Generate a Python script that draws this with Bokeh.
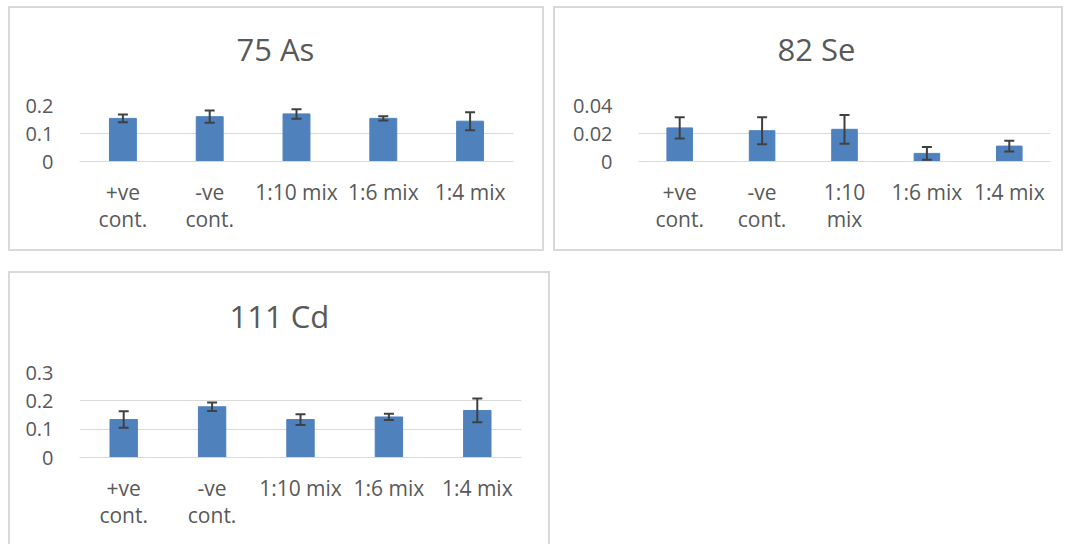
from bokeh.plotting import figure
from bokeh.models import (ColumnDataSource, Whisker, TeeHead, FixedTicker, FactorRange,
                          Title)
from bokeh.layouts import column, row
from bokeh.embed import file_html
from bokeh.resources import INLINE

# 75 As
as_title = "75 As"
as_categories = ["+ve\ncont.", "-ve\ncont.", "1:10 mix", "1:6 mix", "1:4 mix"]
as_values = [0.154, 0.160, 0.170, 0.154, 0.144]
as_errors = [0.014, 0.022, 0.017, 0.008, 0.032]
as_ticks = [0, 0.1, 0.2]
as_tick_labels = ["0", "0.1", "0.2"]

# 82 Se
se_title = "82 Se"
se_categories = ["+ve\ncont.", "-ve\ncont.", "1:10\nmix", "1:6 mix", "1:4 mix"]
se_values = [0.024, 0.022, 0.023, 0.0058, 0.011]
se_errors = [0.0076, 0.0096, 0.0103, 0.0045, 0.0038]
se_ticks = [0, 0.02, 0.04]
se_tick_labels = ["0", "0.02", "0.04"]

# 111 Cd
cd_title = "111 Cd"
cd_categories = ["+ve\ncont.", "-ve\ncont.", "1:10 mix", "1:6 mix", "1:4 mix"]
cd_values = [0.134, 0.179, 0.134, 0.143, 0.166]
cd_errors = [0.029, 0.015, 0.019, 0.011, 0.042]
cd_ticks = [0, 0.1, 0.2, 0.3]
cd_tick_labels = ["0", "0.1", "0.2", "0.3"]

BAR = "#4F81BD"
TXT = "#595959"
GRID = "#D9D9D9"
ERR = "#404040"
FONT = "Open Sans"


def panel(title, categories, values, errors, ticks, tick_labels, width, height,
          mleft, mright, mtop, mbottom, title_offset, border_bottom=True):
    p = figure(x_range=FactorRange(*categories), y_range=(ticks[0], ticks[-1]),
               width=width, height=height, output_backend="svg",
               toolbar_location=None, min_border_left=mleft, min_border_right=mright,
               min_border_top=mtop, min_border_bottom=mbottom,
               background_fill_color="white", border_fill_color="white",
               outline_line_color=None)
    st = {"border-top": "2px solid #D9D9D9", "border-left": "2px solid #D9D9D9",
          "border-right": "2px solid #D9D9D9"}
    if border_bottom:
        st["border-bottom"] = "2px solid #D9D9D9"
    p.styles = st
    src = ColumnDataSource(dict(cat=categories, val=values,
                                upper=[v + e for v, e in zip(values, errors)],
                                lower=[v - e for v, e in zip(values, errors)]))
    p.vbar(x="cat", top="val", width=0.31, source=src, fill_color=BAR, line_color=BAR)
    w = Whisker(base="cat", upper="upper", lower="lower", source=src,
                line_color=ERR, line_width=2, level="annotation",
                upper_head=TeeHead(size=10, line_color=ERR, line_width=2),
                lower_head=TeeHead(size=10, line_color=ERR, line_width=2))
    p.add_layout(w)

    # spacer between frame and title, then the title itself
    p.add_layout(Title(text=" ", text_font_size="1px", standoff=33), "above")
    p.add_layout(Title(text=title, align="left", offset=title_offset, standoff=0,
                       text_font=FONT, text_font_size="31px", text_color=TXT,
                       text_font_style="normal"), "above")

    p.xgrid.grid_line_color = None
    p.ygrid.grid_line_color = GRID
    p.ygrid.grid_line_width = 1
    p.ygrid.ticker = FixedTicker(ticks=ticks)

    p.yaxis.ticker = FixedTicker(ticks=ticks)
    p.yaxis.major_label_overrides = {t: l for t, l in zip(ticks, tick_labels)}
    p.yaxis.axis_line_color = None
    p.yaxis.major_tick_line_color = None
    p.yaxis.minor_tick_line_color = None
    p.yaxis.major_label_text_font = FONT
    p.yaxis.major_label_text_font_size = "20px"
    p.yaxis.major_label_text_color = TXT
    p.yaxis.major_label_standoff = 20

    ax = p.xaxis[0]
    ax.axis_line_color = GRID
    ax.major_tick_line_color = None
    ax.minor_tick_line_color = None
    ax.major_label_text_font = FONT
    ax.major_label_text_font_size = "21px"
    ax.major_label_text_color = TXT
    ax.major_label_text_line_height = 0.97
    ax.major_label_standoff = 10
    ax.major_label_orientation = "horizontal"
    return p


p1 = panel(as_title, as_categories, as_values, as_errors, as_ticks, as_tick_labels,
           536, 245, 69, 33, 97, 92, 157)
p2 = panel(se_title, se_categories, se_values, se_errors, se_ticks, se_tick_labels,
           510, 245, 83, 15, 97, 92, 139)
p3 = panel(cd_title, cd_categories, cd_values, cd_errors, cd_ticks, cd_tick_labels,
           542, 273, 69, 31, 99, 89, 150, border_bottom=False)

layout = column(row(p1, p2, spacing=9), p3, spacing=20, margin=(6, 0, 0, 8))
open("out.html", "w").write(file_html(layout, INLINE))
